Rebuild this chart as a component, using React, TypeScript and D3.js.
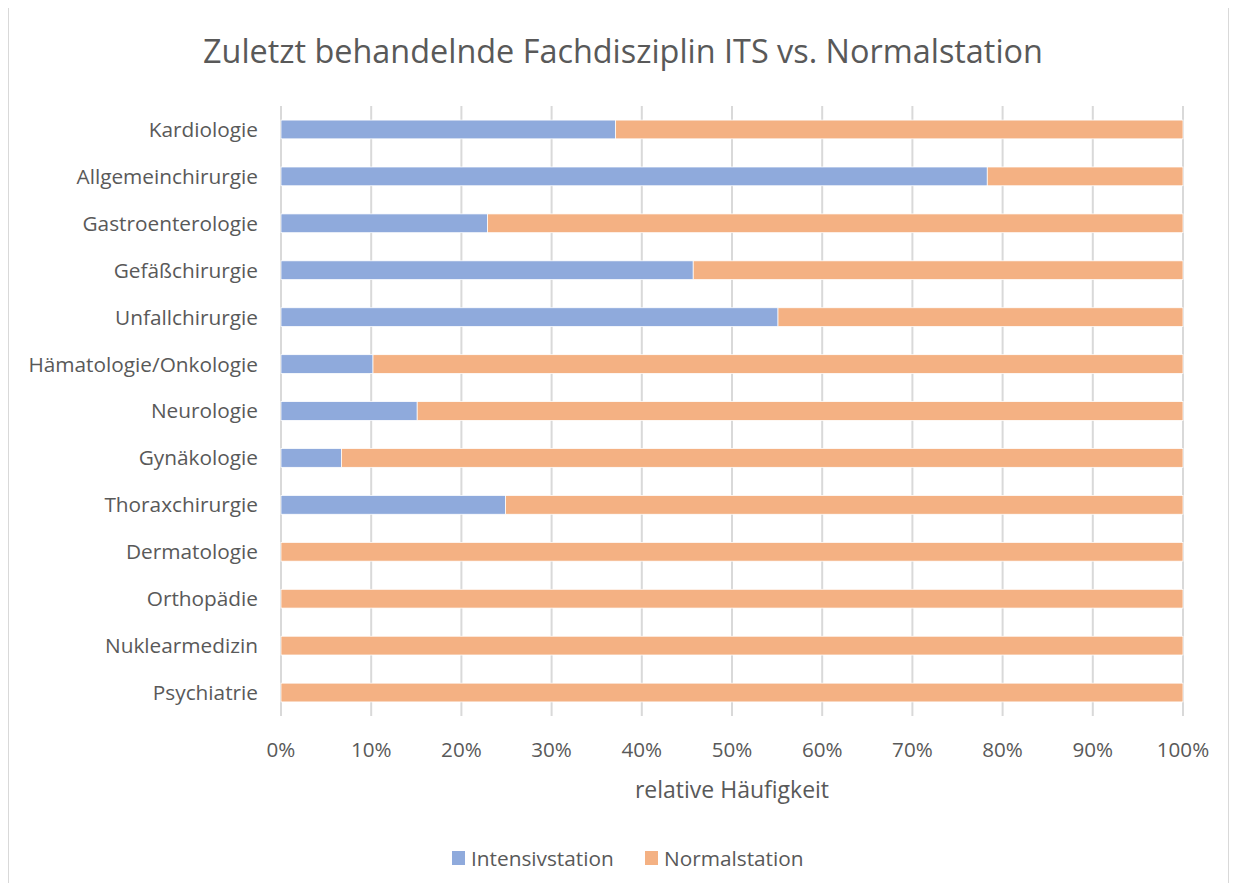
import React, { useEffect, useRef } from "react";
import * as d3 from "d3";

const categories = [
  "Kardiologie",
  "Allgemeinchirurgie",
  "Gastroenterologie",
  "Gefäßchirurgie",
  "Unfallchirurgie",
  "Hämatologie/Onkologie",
  "Neurologie",
  "Gynäkologie",
  "Thoraxchirurgie",
  "Dermatologie",
  "Orthopädie",
  "Nuklearmedizin",
  "Psychiatrie",
];
// share on intensive care unit (ITS), rest = Normalstation
const intensiv = [0.371, 0.783, 0.229, 0.457, 0.551, 0.102, 0.151, 0.067, 0.249, 0, 0, 0, 0];
const normal = intensiv.map((v) => 1 - v);
const seriesNames = ["Intensivstation", "Normalstation"];
const seriesColors = ["#8FAADC", "#F4B183"];
const xTicks = [0, 0.1, 0.2, 0.3, 0.4, 0.5, 0.6, 0.7, 0.8, 0.9, 1];

const W = 1237;
const H = 891;
const font = "'Open Sans', sans-serif";
const textColor = "#595959";

export default function App() {
  const ref = useRef<SVGSVGElement>(null);

  useEffect(() => {
    const svg = d3.select(ref.current);
    svg.selectAll("*").remove();

    const margin = { top: 106, right: 54, bottom: 175, left: 281 };
    const innerW = W - margin.left - margin.right;
    const innerH = H - margin.top - margin.bottom;

    svg.append("rect")
      .attr("x", 8.5).attr("y", 7.5)
      .attr("width", 1220).attr("height", 878)
      .attr("fill", "#fff").attr("stroke", "#d9d9d9");

    svg.append("text")
      .attr("x", 623).attr("y", 63)
      .attr("text-anchor", "middle")
      .attr("font-family", font).attr("font-size", 32.4)
      .attr("fill", textColor)
      .text("Zuletzt behandelnde Fachdisziplin ITS vs. Normalstation");

    const g = svg.append("g").attr("transform", `translate(${margin.left},${margin.top})`);

    const x = d3.scaleLinear().domain([0, 1]).range([0, innerW]);
    const y = d3.scaleBand().domain(categories).range([0, innerH]).paddingInner(0.6).paddingOuter(0.3);

    // gridlines
    g.selectAll("line.grid")
      .data(xTicks)
      .enter().append("line")
      .attr("x1", (d) => x(d)).attr("x2", (d) => x(d))
      .attr("y1", 0).attr("y2", innerH)
      .attr("stroke", "#d9d9d9").attr("stroke-width", 2);

    const rows = categories.map((c, i) => ({ c, a: intensiv[i], b: normal[i] }));

    // Intensivstation
    g.selectAll("rect.a")
      .data(rows.filter((r) => r.a > 0))
      .enter().append("rect")
      .attr("x", 0)
      .attr("y", (d) => y(d.c)!)
      .attr("width", (d) => x(d.a))
      .attr("height", y.bandwidth())
      .attr("fill", seriesColors[0])
      .attr("stroke", "#fff").attr("stroke-width", 0.75);

    // Normalstation
    g.selectAll("rect.b")
      .data(rows)
      .enter().append("rect")
      .attr("x", (d) => x(d.a))
      .attr("y", (d) => y(d.c)!)
      .attr("width", (d) => x(d.a + d.b) - x(d.a))
      .attr("height", y.bandwidth())
      .attr("fill", seriesColors[1])
      .attr("stroke", "#fff").attr("stroke-width", 0.75);

    // category labels
    g.selectAll("text.cat")
      .data(categories)
      .enter().append("text")
      .attr("x", -23)
      .attr("y", (d) => y(d)! + y.bandwidth() / 2)
      .attr("dy", "0.36em")
      .attr("text-anchor", "end")
      .attr("font-family", font).attr("font-size", 20.8)
      .attr("fill", textColor)
      .text((d) => d);

    // x tick labels
    g.selectAll("text.tick")
      .data(xTicks)
      .enter().append("text")
      .attr("x", (d) => x(d))
      .attr("y", innerH + 41)
      .attr("text-anchor", "middle")
      .attr("font-family", font).attr("font-size", 20.6)
      .attr("fill", textColor)
      .text((d) => d3.format(".0%")(d));

    g.append("text")
      .attr("x", innerW / 2).attr("y", innerH + 82)
      .attr("text-anchor", "middle")
      .attr("font-family", font).attr("font-size", 23)
      .attr("fill", textColor)
      .text("relative Häufigkeit");

    // legend
    const legendX = [452, 645];
    seriesNames.forEach((name, i) => {
      svg.append("rect")
        .attr("x", legendX[i]).attr("y", 851)
        .attr("width", 13).attr("height", 14)
        .attr("fill", seriesColors[i]);
      svg.append("text")
        .attr("x", legendX[i] + 19).attr("y", 866)
        .attr("font-family", font).attr("font-size", 20.8)
        .attr("fill", textColor)
        .text(name);
    });
  }, []);

  return <svg ref={ref} width={W} height={H} style={{ display: "block", margin: -8 }} />;
}
